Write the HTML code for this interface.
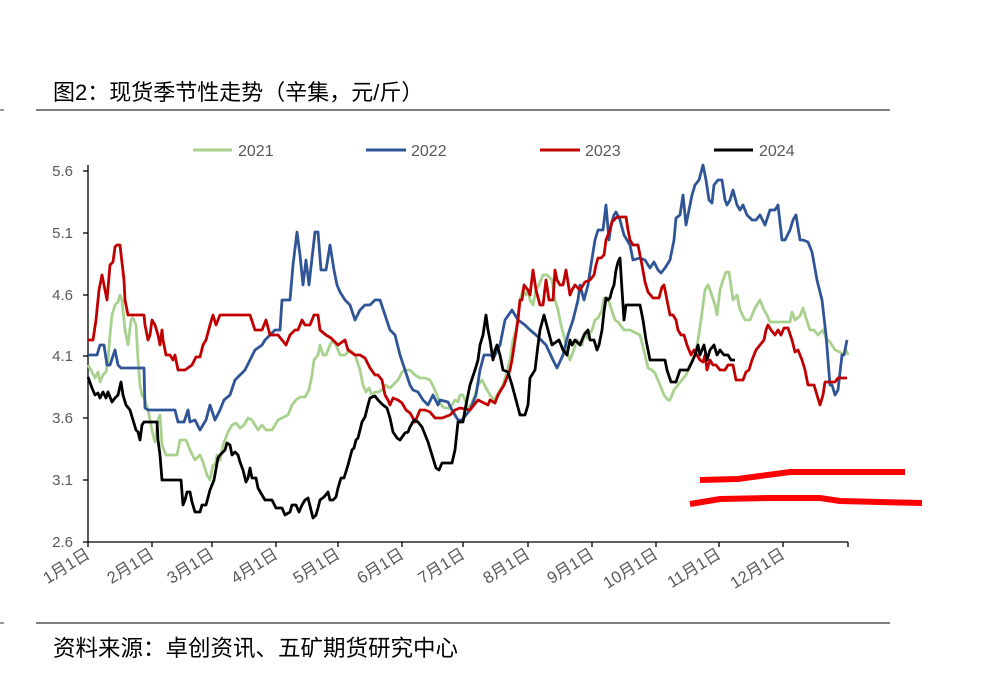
<!DOCTYPE html><html><head><meta charset="utf-8"><style>body{margin:0;background:#fff}svg{display:block}</style></head><body>
<svg width="996" height="680" xmlns="http://www.w3.org/2000/svg" font-family="Liberation Sans, Noto Sans CJK SC, sans-serif">
<text x="53" y="100" font-size="22" fill="#000">图2：现货季节性走势（辛集，元/斤）</text>
<line x1="36" y1="110" x2="890" y2="110" stroke="#333" stroke-width="1.3"/>
<line x1="0" y1="110" x2="4" y2="110" stroke="#333"/>
<line x1="36" y1="623" x2="890" y2="623" stroke="#333" stroke-width="1.3"/>
<line x1="0" y1="623" x2="4" y2="623" stroke="#333"/>
<text x="53" y="656" font-size="22.5" fill="#000">资料来源：卓创资讯、五矿期货研究中心</text>
<g font-size="15" fill="#595959" text-anchor="end">
<text x="73" y="176">5.6</text><text x="73" y="238">5.1</text><text x="73" y="300">4.6</text><text x="73" y="361">4.1</text><text x="73" y="423">3.6</text><text x="73" y="485">3.1</text><text x="73" y="547">2.6</text></g>
<g stroke="#000" stroke-width="1.3">
<line x1="88" y1="165" x2="88" y2="542"/><line x1="88" y1="542" x2="848" y2="542"/>
<line x1="83" y1="171" x2="88" y2="171"/><line x1="83" y1="233" x2="88" y2="233"/><line x1="83" y1="295" x2="88" y2="295"/><line x1="83" y1="356" x2="88" y2="356"/><line x1="83" y1="418" x2="88" y2="418"/><line x1="83" y1="480" x2="88" y2="480"/><line x1="83" y1="542" x2="88" y2="542"/>
<path d="M88 542v5M152 542v5M212 542v5M276 542v5M338 542v5M402 542v5M463 542v5M528 542v5M592 542v5M656 542v5M719 542v5M783 542v5M848 542v5"/></g>
<g font-size="16.5" fill="#595959" text-anchor="end">
<text transform="translate(91,557) rotate(-32)">1月1日</text>
<text transform="translate(155,557) rotate(-32)">2月1日</text>
<text transform="translate(215,557) rotate(-32)">3月1日</text>
<text transform="translate(279,557) rotate(-32)">4月1日</text>
<text transform="translate(341,557) rotate(-32)">5月1日</text>
<text transform="translate(405,557) rotate(-32)">6月1日</text>
<text transform="translate(466,557) rotate(-32)">7月1日</text>
<text transform="translate(531,557) rotate(-32)">8月1日</text>
<text transform="translate(595,557) rotate(-32)">9月1日</text>
<text transform="translate(659,557) rotate(-32)">10月1日</text>
<text transform="translate(722,557) rotate(-32)">11月1日</text>
<text transform="translate(786,557) rotate(-32)">12月1日</text></g>
<g font-size="16" fill="#595959" stroke-width="3">
<line x1="193" y1="150" x2="232" y2="150" stroke="#a9d18e"/><text x="238" y="156">2021</text>
<line x1="366" y1="150" x2="406" y2="150" stroke="#2f5597"/><text x="411" y="156">2022</text>
<line x1="540" y1="150" x2="580" y2="150" stroke="#c00000"/><text x="585" y="156">2023</text>
<line x1="714" y1="150" x2="753" y2="150" stroke="#000"/><text x="759" y="156">2024</text></g>
<g fill="none" stroke-width="2.8" stroke-linejoin="round">
<polyline stroke="#a9d18e" points="88,365 92,372 95,378 98,372 100,382 103,375 106,372 108,360 110,335 112,315 115,305 118,302 120,295 122,300 125,330 128,345 131,320 133,318 136,325 138,360 140,385 142,395 144,398 148,410 150,420 153,435 155,442 158,420 160,415 162,445 166,455 177,455 180,440 186,440 190,450 195,460 200,455 203,462 207,475 210,480 213,465 215,465 217,455 220,460 223,445 225,440 228,432 232,425 236,423 240,428 244,425 248,418 252,420 255,425 258,430 262,425 266,430 272,430 278,420 282,418 288,415 292,405 296,400 300,397 305,397 309,390 312,375 314,360 318,355 320,345 323,355 326,355 330,345 333,340 336,345 340,355 345,355 350,350 355,355 360,370 363,385 366,392 369,388 372,395 375,392 378,392 382,390 385,385 390,388 393,385 398,380 402,372 405,370 410,370 415,375 420,378 425,378 430,380 434,388 437,395 440,403 443,407 446,408 450,408 455,400 458,402 460,395 463,395 468,408 471,405 475,395 478,385 482,380 486,388 490,395 494,400 499,392 503,385 506,375 510,360 513,340 516,330 520,300 523,290 526,295 528,290 530,300 533,305 536,290 539,285 543,275 547,275 552,280 555,300 558,310 561,325 565,340 568,355 570,360 573,352 577,340 582,345 585,332 587,338 592,330 595,320 598,318 602,310 604,298 608,298 610,305 615,320 618,322 624,330 630,330 640,335 645,355 648,368 652,370 655,373 660,385 664,395 668,400 670,400 674,390 678,385 682,380 686,375 690,365 695,355 698,340 701,320 703,305 705,290 708,285 710,290 715,305 717,315 720,290 723,280 726,272 729,272 733,300 737,295 740,310 745,320 750,320 755,308 760,300 764,310 767,315 770,322 790,322 792,312 795,320 800,316 803,308 806,318 810,330 814,330 818,335 823,330 826,338 830,342 835,350 840,352 843,355 846,350 848,355"/>
<polyline stroke="#2f5597" points="88,355 97,355 100,345 104,345 107,365 110,365 115,350 118,365 121,368 144,368 145,408 148,410 175,410 178,422 184,422 188,410 190,422 195,420 200,430 206,420 210,405 215,420 220,410 224,400 230,395 235,380 240,375 245,370 250,360 255,350 262,345 265,340 270,335 275,330 280,330 282,300 290,300 293,265 297,232 300,255 303,285 306,260 309,285 312,258 315,232 318,232 321,270 326,270 330,245 334,270 337,285 340,292 345,300 350,305 355,320 360,310 365,305 370,305 375,300 380,300 385,315 390,330 395,335 400,355 405,370 410,385 413,390 418,392 423,400 428,405 433,395 438,405 440,400 448,402 452,410 458,420 462,420 466,415 470,410 476,395 480,370 484,355 490,355 494,357 500,345 505,320 512,310 518,320 525,325 530,330 536,335 541,340 546,345 553,360 557,368 563,355 568,335 573,320 578,300 580,285 584,300 588,285 591,265 595,240 598,230 603,230 606,205 609,240 611,225 614,215 616,212 620,220 624,235 627,240 630,245 633,260 640,258 645,260 650,268 654,262 658,270 661,273 665,268 670,260 674,240 676,218 680,215 683,195 686,225 689,210 692,195 695,185 699,180 703,165 706,180 709,200 712,203 714,185 718,180 722,180 725,200 727,205 730,200 733,190 737,205 740,210 743,205 747,215 752,220 756,220 760,215 765,225 770,210 775,210 778,205 782,240 785,240 790,230 793,220 796,215 800,240 803,240 808,242 812,252 817,280 822,300 826,335 830,385 832,385 835,395 838,390 842,355 844,355 847,340"/>
<polyline stroke="#c00000" points="88,340 93,340 96,320 99,290 102,275 104,285 107,300 110,265 113,262 115,247 117,245 120,245 124,280 125,300 128,315 144,315 145,325 148,340 150,335 152,320 155,325 158,335 160,345 162,330 163,340 166,355 170,355 173,360 175,355 178,370 185,370 192,365 196,357 200,357 203,345 206,340 210,325 213,315 216,325 220,315 250,315 255,330 262,330 266,320 270,335 278,335 286,345 290,335 295,330 298,330 302,320 305,325 310,325 314,315 318,315 320,330 326,335 331,338 335,342 338,345 345,340 348,350 355,355 360,355 365,358 370,368 375,375 378,375 382,380 385,395 388,400 390,405 393,398 398,400 402,403 406,410 410,413 413,418 415,422 420,410 425,410 430,412 435,418 442,418 450,415 455,410 460,408 470,410 478,400 488,405 490,400 495,403 498,395 504,385 510,370 512,360 515,340 518,320 520,300 522,300 524,285 528,290 530,295 533,270 536,290 540,305 543,305 546,280 549,300 553,300 555,270 557,280 560,285 563,285 566,270 570,295 572,290 575,285 580,290 585,282 590,280 594,275 596,265 598,258 601,258 604,255 606,240 608,235 610,230 612,222 614,220 617,217 626,217 628,230 630,240 633,245 638,245 642,265 645,282 648,292 653,298 659,298 662,287 664,285 667,300 670,315 673,315 676,320 678,330 681,335 684,335 687,345 691,355 694,350 700,360 703,362 705,355 707,370 710,360 713,365 716,365 720,370 725,370 728,365 733,365 736,380 743,380 746,372 749,370 752,360 756,350 760,345 764,340 766,330 768,325 771,330 775,335 778,330 781,335 784,328 788,328 792,340 795,352 798,350 802,360 805,370 808,385 814,385 817,395 820,405 823,395 825,382 835,382 838,378 847,378"/>
<polyline stroke="#000" points="88,377 92,388 95,395 98,393 100,398 103,392 106,398 108,392 112,402 115,398 118,395 121,382 123,395 126,405 130,410 133,420 136,430 138,432 140,440 142,425 144,422 157,422 158,440 160,455 162,480 181,480 183,505 185,500 187,492 190,492 192,502 195,512 200,512 202,505 206,505 210,490 214,480 218,458 220,455 225,450 227,443 230,445 232,455 235,452 238,455 240,462 243,470 246,482 248,478 250,468 252,478 256,478 258,488 262,495 265,500 272,500 276,508 282,508 285,515 290,512 292,505 296,505 299,512 302,505 305,500 308,498 311,510 313,518 316,515 318,508 320,500 324,497 328,492 330,500 333,500 336,497 338,488 341,478 344,478 348,465 352,450 354,448 356,440 358,438 362,422 365,417 368,405 370,398 375,396 378,400 383,405 387,408 390,418 393,432 397,438 400,440 405,433 408,432 410,427 414,420 418,422 422,427 428,442 432,455 436,468 439,470 442,463 452,463 455,450 458,422 463,422 465,410 470,385 475,370 478,360 480,345 483,335 486,315 488,330 490,340 493,360 495,350 497,345 500,355 503,370 508,372 512,385 516,400 520,415 525,415 528,405 530,378 535,370 538,345 540,330 544,315 548,330 552,345 556,342 559,340 563,350 567,355 570,340 572,345 575,340 580,345 584,335 588,330 590,340 594,340 597,350 599,345 602,330 604,312 606,298 608,300 610,298 612,290 614,285 616,270 618,262 620,258 622,290 624,320 626,305 640,305 643,320 646,340 650,360 665,360 667,370 671,382 676,382 680,370 688,370 692,362 695,355 698,345 700,355 704,345 707,360 710,350 714,345 717,355 720,350 724,355 728,355 731,360 735,360"/>
</g>
<g fill="none" stroke="#ff0000" stroke-width="6">
<polyline points="700,480 738,479 760,476 790,472 905,472"/>
<polyline points="690,504 720,499 770,498 820,498 840,501 922,503"/>
</g>
</svg></body></html>
